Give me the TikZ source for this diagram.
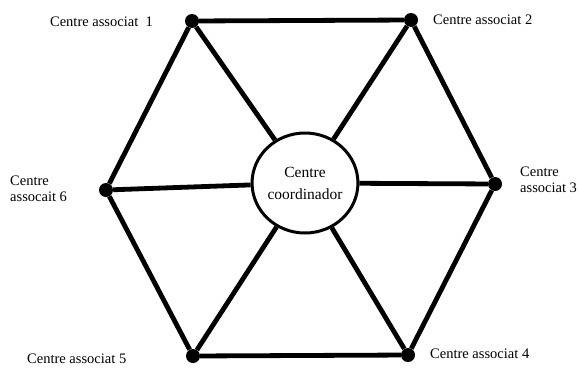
\documentclass[tikz,border=0pt]{standalone}
\usepackage{fontspec}
\setmainfont{Liberation Serif}
\usetikzlibrary{shapes.geometric}
\begin{document}
\begin{tikzpicture}[x=1pt,y=-1pt,
  vdot/.style={circle,fill=black,inner sep=0pt,minimum size=14pt},
  edge/.style={line width=4.8pt},
  lbl/.style={font=\fontsize{14.5}{15.5}\selectfont,inner sep=0pt,align=left}]
\useasboundingbox (0,0) rectangle (580,367);
\node[vdot] (v1) at (192,21) {};
\node[vdot] (v2) at (411,20) {};
\node[vdot] (v3) at (495,184) {};
\node[vdot] (v4) at (408,355) {};
\node[vdot] (v5) at (193,356) {};
\node[vdot] (v6) at (106,190) {};
\node[draw,line width=3pt,ellipse,minimum width=88pt,minimum height=100pt,inner sep=0pt,fill=white,
      font=\fontsize{15.5}{22}\selectfont,align=center] (c) at (305,183) {Centre\\coordinador};
\draw[edge] (v1) -- (v2) -- (v3) -- (v4) -- (v5) -- (v6) -- (v1);
\foreach \v in {v1,v2,v3,v4,v5,v6} \draw[edge] (\v) -- (c);
\node[lbl,anchor=east] (l1) at (153,22) {Centre associat\ \ 1};
\node[lbl,anchor=west] (l2) at (433,20) {Centre associat 2};
\node[lbl,anchor=west] (l3) at (520,180) {Centre\\associat 3};
\node[lbl,anchor=west] (l4) at (430,354) {Centre associat 4};
\node[lbl,anchor=west] (l5) at (27,359) {Centre associat 5};
\node[lbl,anchor=west] (l6) at (10,189) {Centre\\assocait 6};
\end{tikzpicture}
\end{document}
